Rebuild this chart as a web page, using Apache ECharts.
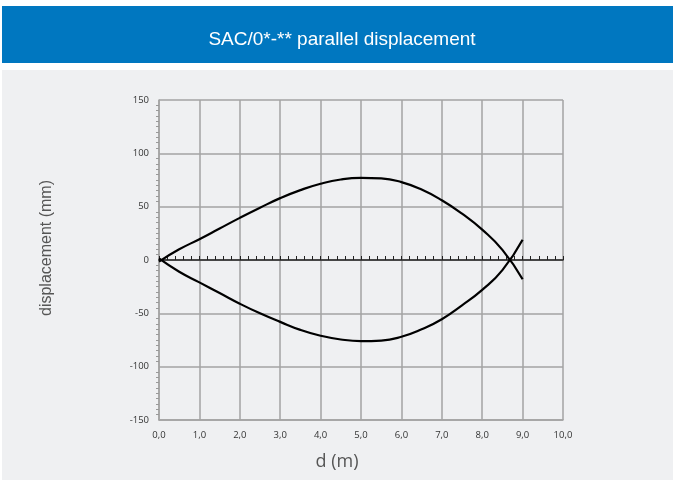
<!DOCTYPE html>
<html>
<head>
<meta charset="utf-8">
<script src="https://cdn.jsdelivr.net/npm/echarts@6/dist/echarts.min.js"></script>
<style>
  html, body { margin: 0; padding: 0; background: #fff; }
  #main { width: 676px; height: 480px; }
</style>
</head>
<body>
<div id="main"></div>
<script>
// distance along the line (m)
var distance = [0, 0.5, 1, 1.5, 2, 2.5, 3, 3.5, 4, 4.5, 5, 5.5, 6, 6.5, 7, 7.5, 8, 8.5, 9];
// displacement (mm), upper and lower curve
var upperCurve = [-1.5, 10, 19.5, 29.5, 39.5, 49, 58, 65.5, 71.5, 75.5, 77, 76.5, 73, 66, 56, 43.5, 28.5, 9.5, -18];
var lowerCurve = [1.5, -11, -21, -31, -41, -50, -58, -65.5, -71, -74.5, -76, -75.5, -72, -65, -55.5, -42.5, -28, -9.5, 19];

var titleText = 'SAC/0*-** parallel displacement';
var xName = 'd (m)';
var yName = 'displacement (mm)';

function pairs(xs, ys) {
    return xs.map(function (x, i) { return [x, ys[i]]; });
}

var chartDom = document.getElementById('main');
var myChart = echarts.init(chartDom);
var gridColor = '#a3a3a3';

var option = {
    backgroundColor: '#ffffff',
    animation: false,
    graphic: [
        { type: 'rect', z: -10, shape: { x: 2, y: 6, width: 671, height: 57 }, style: { fill: '#0077c0' } },
        { type: 'rect', z: -10, shape: { x: 2, y: 70, width: 671, height: 410 }, style: { fill: '#eff0f2' } },
        {
            type: 'text', x: 342, y: 40,
            style: { text: titleText, fill: '#ffffff', font: '19px "Liberation Sans", Arial, sans-serif', align: 'center', verticalAlign: 'middle' }
        },
        {
            type: 'text', x: 47, y: 248, rotation: Math.PI / 2,
            style: { text: yName, fill: '#555', font: '16px "Liberation Sans", Arial, sans-serif', align: 'center', verticalAlign: 'middle' }
        },
        {
            type: 'text', x: 337, y: 462,
            style: { text: xName, fill: '#555', font: '18px "Open Sans", sans-serif', align: 'center', verticalAlign: 'middle' }
        }
    ],
    grid: { left: 159, right: 113, top: 100, bottom: 60 },
    xAxis: [
        {
            type: 'value', min: 0, max: 10, interval: 1,
            axisLine: { onZero: false, lineStyle: { color: gridColor, width: 1.5 } },
            axisTick: { show: false },
            axisLabel: {
                margin: 10, color: '#333', fontSize: 9.5, fontFamily: '"Open Sans", sans-serif',
                formatter: function (v) { return v.toFixed(1).replace('.', ','); }
            },
            splitLine: { show: true, lineStyle: { color: gridColor, width: 1.5 } }
        },
        {
            type: 'value', min: 0, max: 10, interval: 1, position: 'bottom',
            axisLine: { onZero: true, lineStyle: { color: '#222', width: 1.5 } },
            axisTick: { show: true, inside: true, length: 4, lineStyle: { color: '#222' } },
            minorTick: { show: true, splitNumber: 5, length: 4, lineStyle: { color: '#222' } },
            axisLabel: { show: false },
            splitLine: { show: false }
        }
    ],
    yAxis: {
        type: 'value', min: -150, max: 150, interval: 50,
        axisLine: { show: true, lineStyle: { color: gridColor, width: 1.5 } },
        axisTick: { show: false },
        minorTick: { show: true, splitNumber: 10, length: 3, lineStyle: { color: '#999' } },
        axisLabel: { margin: 10, color: '#333', fontSize: 9.5, fontFamily: '"Open Sans", sans-serif' },
        splitLine: { show: true, lineStyle: { color: gridColor, width: 1.5 } }
    },
    series: [
        {
            type: 'line', xAxisIndex: 0, data: pairs(distance, upperCurve),
            showSymbol: false, smooth: 0.5,
            lineStyle: { color: '#000', width: 2.2 }
        },
        {
            type: 'line', xAxisIndex: 0, data: pairs(distance, lowerCurve),
            showSymbol: false, smooth: 0.5,
            lineStyle: { color: '#000', width: 2.2 }
        }
    ]
};
option && myChart.setOption(option);
</script>
</body>
</html>
